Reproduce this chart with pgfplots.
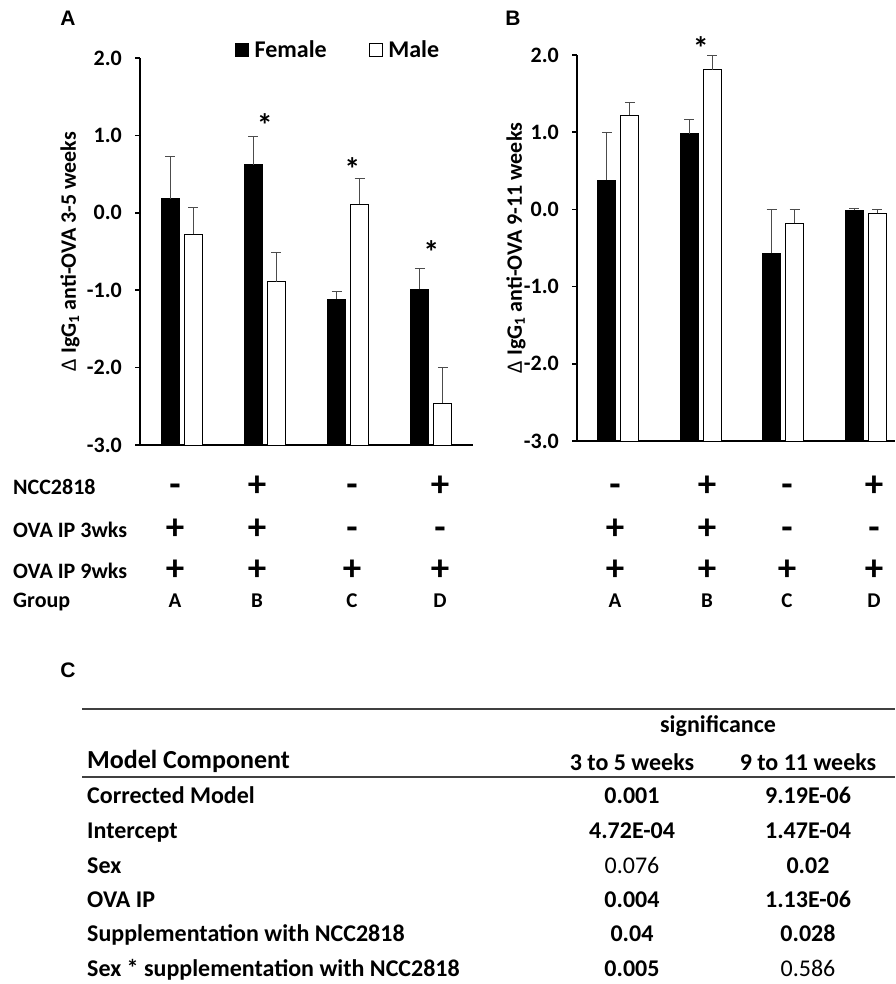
\documentclass[border=0pt]{standalone}
\usepackage{fontspec}
\setmainfont{Carlito}
\newfontfamily\panelfont{Liberation Sans}
\usepackage{pgfplots}
\usepackage{pgfplotstable}
\pgfplotsset{compat=1.18}

\newcommand{\fs}[1]{\fontsize{#1}{#1}\selectfont}

% group, female mean, female SE, male mean, male SE
\pgfplotstableread{
grp f     fe    m     me
1   0.18  0.55  -0.28 0.35
2   0.62  0.37  -0.89 0.38
3   -1.12 0.10  0.11  0.33
4   -0.99 0.27  -2.46 0.46
}\earlyweeks
\pgfplotstableread{
grp f     fe    m     me
1   0.38  0.61  1.22  0.17
2   0.98  0.18  1.81  0.18
3   -0.57 0.57  -0.18 0.18
4   -0.01 0.02  -0.05 0.05
}\lateweeks

\pgfplotsset{
  panel/.style={
    scale only axis, anchor=south west,
    ybar=5pt, bar width=18pt,
    axis lines*=left,
    axis line style={line width=1.6pt},
    xmin=0.5, ymin=0, ymax=5,
    xtick=\empty,
    ytick={0,1,2,3,4,5},
    yticklabels={-3.0,-2.0,-1.0,0.0,1.0,2.0},
    ytick pos=left,
    tick align=outside, major tick length=5pt,
    major tick style={line width=1.6pt, black},
    yticklabel style={font=\fs{22pt}\bfseries, inner sep=0pt, xshift=-13pt},
    ylabel style={font=\fs{22pt}\bfseries, anchor=center},
    clip=false,
  },
  errs/.style={error bars/.cd, y dir=plus, y explicit,
    error bar style={line width=1pt, black!70},
    error mark options={rotate=90, mark size=5pt, line width=1pt, black!70}},
  fem/.style={fill=black, draw=black, line width=0.8pt},
  mal/.style={fill=white, draw=black, line width=1pt},
}
\tikzset{sigstar/.style={font=\fs{32pt}\bfseries}}

\begin{document}
\begin{tikzpicture}
\useasboundingbox (0,0) rectangle (895pt,-984pt);

% ---- panel A
\begin{axis}[panel, at={(140pt,-445pt)}, width=333pt, height=387pt, xmax=4.5,
  ylabel={{\mdseries Δ} IgG\textsubscript{1} anti-OVA 3-5 weeks},
  ylabel style={at={(rel axis cs:-0.21,0.5)}},
  legend style={at={(rel axis cs:0.285,1.02)}, anchor=west, draw=none, fill=none,
    font=\fs{24pt}\bfseries, legend columns=2, inner sep=0pt,
    /tikz/every even column/.append style={column sep=40pt}},
  legend image code/.code={\draw[#1, line width=1.2pt] (0pt,-6.5pt) rectangle (13pt,6.5pt);
    \path[draw=none, fill=none] (0pt,0pt) -- (17pt,0pt);},
]
\addplot[fem, errs] table[x=grp, y expr=\thisrow{f}+3, y error=fe] {\earlyweeks};
\addplot[mal, errs] table[x=grp, y expr=\thisrow{m}+3, y error=me] {\earlyweeks};
\legend{Female, Male}
\node[sigstar] at (axis cs:2,4.14) {*};
\node[sigstar] at (axis cs:3.05,3.56) {*};
\node[sigstar] at (axis cs:4,2.49) {*};
\end{axis}

% ---- panel B
\begin{axis}[panel, at={(577pt,-441pt)}, width=318pt, height=386pt, xmax=4.355,
  ylabel={{\mdseries Δ} IgG\textsubscript{1} anti-OVA 9-11 weeks},
  ylabel style={at={(rel axis cs:-0.192,0.5)}},
]
\addplot[fem, errs] table[x=grp, y expr=\thisrow{f}+3, y error=fe] {\lateweeks};
\addplot[mal, errs] table[x=grp, y expr=\thisrow{m}+3, y error=me] {\lateweeks};
\node[sigstar] at (axis cs:2,5.09) {*};
\end{axis}

% panel letters
\node[font=\panelfont\fs{21pt}\bfseries] at (68pt,-18pt) {A};
\node[font=\panelfont\fs{21pt}\bfseries] at (513pt,-18pt) {B};
\node[font=\panelfont\fs{21pt}\bfseries] at (68pt,-670pt) {C};

% treatment rows under the bars
\begin{scope}[every node/.style={font=\fs{22pt}\bfseries, anchor=base west, inner sep=0pt}]
\node at (13pt,-494pt) {NCC2818};
\node at (13pt,-537pt) {OVA IP 3wks};
\node at (13pt,-578pt) {OVA IP 9wks};
\node at (13pt,-607pt) {Group};
\end{scope}
\begin{scope}[every node/.style={font=\fs{37pt}\bfseries, anchor=base, inner sep=0pt}]
\foreach \x/\a/\b/\c in {175/-/+/+, 257/+/+/+, 352/-/-/+, 440/+/-/+,
                         615/-/+/+, 707/+/+/+, 787/-/-/+, 874/+/-/+} {
  \node at (\x pt,-496pt) {\a};
  \node at (\x pt,-539pt) {\b};
  \node at (\x pt,-580pt) {\c};
}
\end{scope}
\begin{scope}[every node/.style={font=\fs{21pt}\bfseries, anchor=base, inner sep=0pt}]
\foreach \x/\g in {175/A, 257/B, 352/C, 440/D, 615/A, 707/B, 787/C, 874/D}
  \node at (\x pt,-607pt) {\g};
\end{scope}

% table C
\draw[line width=1.5pt, black!75] (82pt,-709pt) -- (895pt,-709pt);
\draw[line width=1.5pt, black!75] (82pt,-777pt) -- (895pt,-777pt);
\begin{scope}[every node/.style={inner sep=0pt, anchor=base}]
\node[font=\fs{24pt}\bfseries] at (718pt,-732pt) {significance};
\node[font=\fs{24pt}\bfseries] at (632pt,-770pt) {3 to 5 weeks};
\node[font=\fs{24pt}\bfseries] at (808pt,-770pt) {9 to 11 weeks};
\node[font=\fs{26pt}\bfseries, anchor=base west] at (87pt,-768pt) {Model Component};
\foreach \y/\lab/\u/\v in {
   803/Corrected Model/\textbf{0.001}/\textbf{9.19E-06},
   838/Intercept/\textbf{4.72E-04}/\textbf{1.47E-04},
   873/Sex/0.076/\textbf{0.02},
   907/OVA IP/\textbf{0.004}/\textbf{1.13E-06},
   941/Supplementation with NCC2818/\textbf{0.04}/\textbf{0.028},
   976/Sex * supplementation with NCC2818/\textbf{0.005}/0.586} {
  \node[font=\fs{24pt}\bfseries, anchor=base west] at (87pt,-\y pt) {\lab};
  \node[font=\fs{24pt}] at (632pt,-\y pt) {\u};
  \node[font=\fs{24pt}] at (808pt,-\y pt) {\v};
}
\end{scope}
\end{tikzpicture}
\end{document}
